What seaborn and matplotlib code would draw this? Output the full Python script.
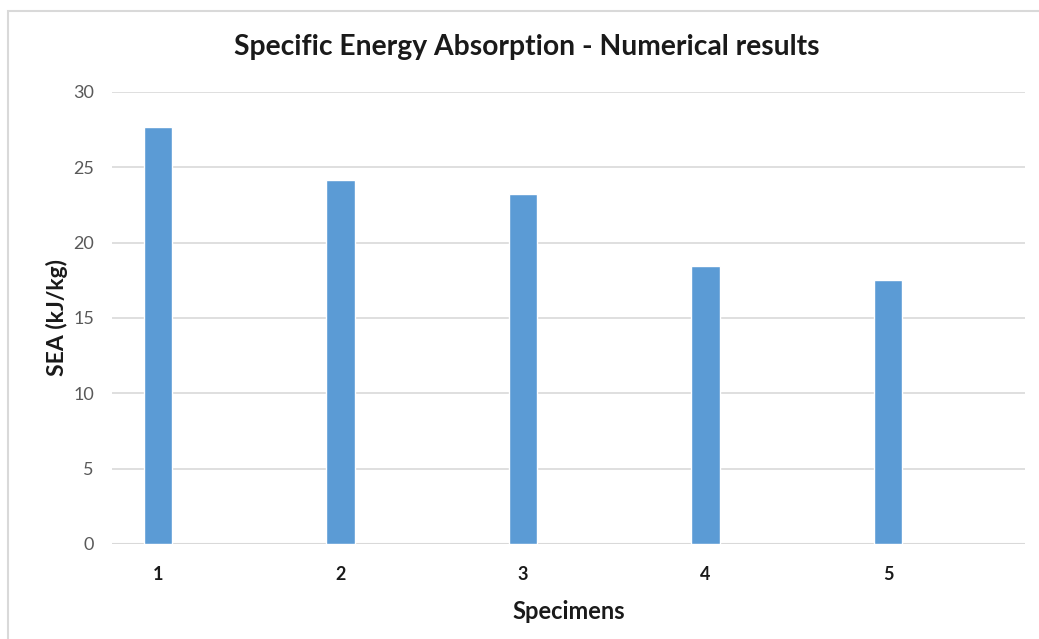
import matplotlib
matplotlib.use("Agg")
import matplotlib.pyplot as plt
import seaborn as sns
import pandas as pd
from matplotlib.patches import Rectangle

# Specific energy absorption per specimen (kJ/kg)
specimens = ["1", "2", "3", "4", "5"]
sea_values = [27.7, 24.15, 23.25, 18.45, 17.55]
y_ticks = [0, 5, 10, 15, 20, 25, 30]

df = pd.DataFrame({"Specimen": specimens, "SEA": sea_values})

sns.set_theme(style="white")
plt.rcParams["font.family"] = ["Lato", "DejaVu Sans"]

W, H = 1039, 639
fig = plt.figure(figsize=(W / 100, H / 100), dpi=100)
ax = fig.add_axes([112 / W, 1 - 544 / H, (1025 - 112) / W, (544 - 92) / H])

sns.barplot(data=df, x="Specimen", y="SEA", color="#5B9BD5", width=0.158,
            saturation=1, ax=ax, zorder=3)

ax.set_ylim(0, 30)
ax.set_xlim(-0.252, 4.751)
ax.set_yticks(y_ticks)
ax.yaxis.grid(True, color="#d9d9d9", linewidth=1.2, zorder=0)
ax.xaxis.grid(False)
for s in ax.spines.values():
    s.set_visible(False)
ax.axhline(0, color="#d9d9d9", linewidth=1.5, zorder=2)

ax.tick_params(axis="y", length=0, pad=13, labelsize=13, labelcolor="#595959")
ax.tick_params(axis="x", length=0, pad=16, labelsize=13, labelcolor="#1a1a1a")
for lbl in ax.get_xticklabels():
    lbl.set_fontweight("bold")

ax.set_xlabel("Specimens", fontsize=17, fontweight="bold", color="#1a1a1a", labelpad=12)
ax.set_ylabel("SEA (kJ/kg)", fontsize=16.5, fontweight="bold", color="#1a1a1a", labelpad=4)

fig.text(527 / W, 1 - 47 / H, "Specific Energy Absorption - Numerical results",
         ha="center", va="center", fontsize=20.3, fontweight="bold", color="#1a1a1a")

# Chart frame
fig.patches.append(Rectangle((8 / W, -0.1), 1.2, 1 - 11 / H + 0.1,
                             transform=fig.transFigure, fill=False,
                             edgecolor="#d9d9d9", linewidth=1.5))

fig.savefig("out.png", dpi=100)
